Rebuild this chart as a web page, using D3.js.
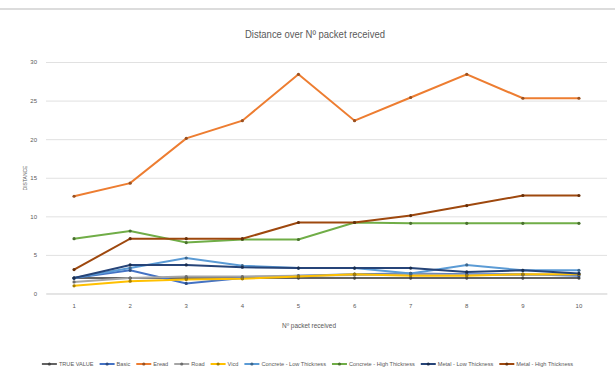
<!DOCTYPE html>
<html>
<head>
<meta charset="utf-8">
<script src="https://cdn.jsdelivr.net/npm/d3@7"></script>
<style>
  body { margin: 0; background: #fff; }
  svg text { font-family: "Liberation Sans", "DejaVu Sans", sans-serif; fill: #595959; }
</style>
</head>
<body>
<div id="chart"></div>
<script>
// x categories (packet number)
const packets = ["1","2","3","4","5","6","7","8","9","10"];
const yTicks = [0, 5, 10, 15, 20, 25, 30];

// series names, in legend order
const seriesNames = ["TRUE VALUE", "Basic", "Eread", "Road", "Vicd",
  "Concrete - Low Thickness", "Concrete - High Thickness",
  "Metal - Low Thickness", "Metal - High Thickness"];
const seriesColors = ["#636363", "#4472C4", "#ED7D31", "#A5A5A5", "#FFC000",
  "#5B9BD5", "#70AD47", "#264478", "#9E480E"];

// values
const trueValue     = [2, 2, 2, 2, 2, 2, 2, 2, 2, 2];
const basic         = [2.0, 3.0, 1.3, 2.0, 2.3, 2.5, 2.6, 2.5, 2.5, 2.3];
const eread         = [12.6, 14.3, 20.1, 22.4, 28.4, 22.4, 25.4, 28.4, 25.3, 25.3];
const road          = [1.5, 2.0, 2.2, 2.2, 2.3, 2.4, 2.5, 2.4, 2.4, 2.5];
const vicd          = [1.0, 1.6, 1.8, 1.9, 2.2, 2.5, 2.3, 2.3, 2.5, 2.5];
const concreteLow   = [2.0, 3.3, 4.6, 3.6, 3.3, 3.3, 2.6, 3.7, 3.0, 3.0];
const concreteHigh  = [7.1, 8.1, 6.6, 7.0, 7.0, 9.2, 9.1, 9.1, 9.1, 9.1];
const metalLow      = [2.0, 3.7, 3.7, 3.4, 3.3, 3.3, 3.3, 2.8, 3.0, 2.6];
const metalHigh     = [3.1, 7.1, 7.1, 7.1, 9.2, 9.2, 10.1, 11.4, 12.7, 12.7];

const allSeries = [trueValue, basic, eread, road, vicd, concreteLow, concreteHigh, metalLow, metalHigh];

const wid = 615, hei = 374;
// plot area
const padLeft = 46, padRight = 607, padTop = 62, padBottom = 293.5;

const svg = d3.select("#chart").append("svg")
  .attr("width", wid).attr("height", hei);

// chart frame line at top
svg.append("line").attr("x1", 0).attr("x2", wid).attr("y1", 9).attr("y2", 9)
  .attr("stroke", "#d0d0d0").attr("stroke-width", 1.5);

const xScale = d3.scaleBand().domain(packets).range([padLeft, padRight]);
const yScale = d3.scaleLinear().domain([0, 30]).range([padBottom, padTop]);
const cx = d => xScale(d) + xScale.bandwidth() / 2;

// gridlines
svg.append("g")
  .attr("transform", `translate(${padLeft},0)`)
  .call(d3.axisLeft(yScale).tickValues(yTicks).tickSize(-(padRight - padLeft)).tickFormat(""))
  .call(g => g.select(".domain").remove())
  .call(g => g.selectAll("line").attr("stroke", "#d9d9d9").attr("stroke-width", 0.8));

// y labels
svg.append("g")
  .attr("transform", `translate(${padLeft},0)`)
  .call(d3.axisLeft(yScale).tickValues(yTicks).tickSize(0).tickPadding(9))
  .call(g => g.select(".domain").remove())
  .call(g => g.selectAll("text").style("font-size", "6px"));

// x axis
svg.append("g")
  .attr("transform", `translate(0,${padBottom})`)
  .call(d3.axisBottom(xScale).tickSize(0).tickPadding(10))
  .call(g => g.select(".domain").attr("stroke", "#d9d9d9"))
  .call(g => g.selectAll("text").style("font-size", "6px"));

// lines
const line = d3.line().x((d, i) => cx(packets[i])).y(d => yScale(d));
allSeries.forEach((vals, s) => {
  svg.append("path")
    .datum(vals)
    .attr("fill", "none")
    .attr("stroke", seriesColors[s])
    .attr("stroke-width", 2)
    .attr("d", line);
});
allSeries.forEach((vals, s) => {
  svg.append("g").selectAll("circle")
    .data(vals).enter().append("circle")
    .attr("cx", (d, i) => cx(packets[i]))
    .attr("cy", d => yScale(d))
    .attr("r", 1.6)
    .attr("fill", d3.color(seriesColors[s]).darker(1.2));
});

// title (condensed like the original)
svg.append("text").attr("x", 315).attr("y", 38).attr("text-anchor", "middle")
  .attr("textLength", 140).attr("lengthAdjust", "spacingAndGlyphs")
  .style("font-size", "11px").text("Distance over Nº packet received");

// axis titles
svg.append("text").attr("x", 309).attr("y", 328).attr("text-anchor", "middle")
  .attr("textLength", 54).attr("lengthAdjust", "spacingAndGlyphs")
  .style("font-size", "7px").text("Nº packet received");
svg.append("text").attr("transform", "translate(27,178) rotate(-90)").attr("text-anchor", "middle")
  .style("font-size", "5px").text("DISTANCE");

// legend
const legend = svg.append("g");
let lx = 0;
seriesNames.forEach((name, s) => {
  const g = legend.append("g").attr("transform", `translate(${lx},0)`);
  g.append("line").attr("x1", 0).attr("x2", 15).attr("y1", 0).attr("y2", 0)
    .attr("stroke", seriesColors[s]).attr("stroke-width", 2);
  g.append("circle").attr("cx", 7.5).attr("cy", 0).attr("r", 1.6)
    .attr("fill", d3.color(seriesColors[s]).darker(1.2));
  const t = g.append("text").attr("x", 17).attr("y", 2.1).style("font-size", "5.6px").text(name);
  lx += 17 + t.node().getComputedTextLength() + 6;
});
legend.attr("transform", `translate(${(wid - lx + 6) / 2},${364})`);
</script>
</body>
</html>
